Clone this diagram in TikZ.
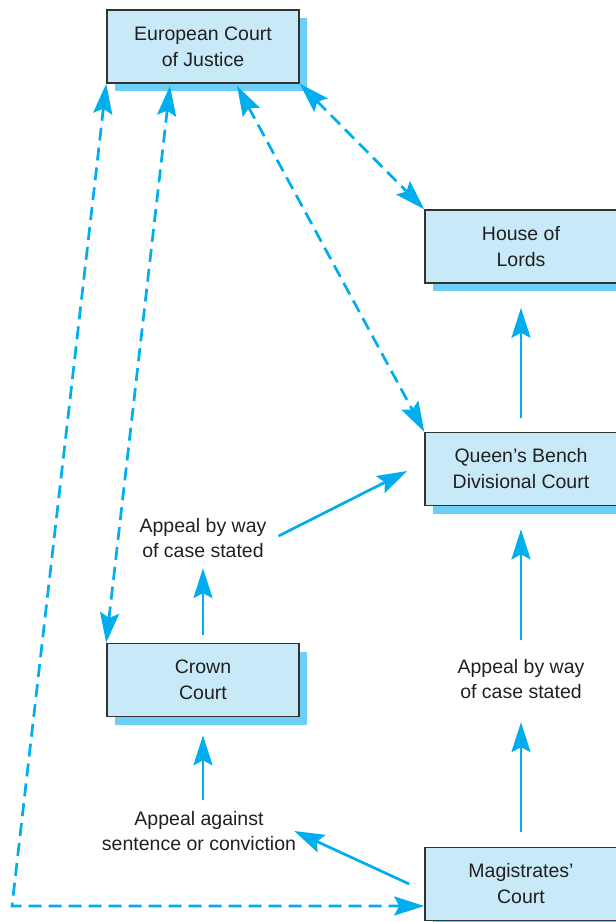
\documentclass[tikz,border=0pt]{standalone}
\usepackage{fontspec}
\setmainfont{Liberation Sans}
\usetikzlibrary{arrows.meta,shadows,calc}
\definecolor{boxfill}{HTML}{C7E9F8}
\definecolor{shadowc}{HTML}{6DCFF6}
\definecolor{arrc}{HTML}{00AEEF}
\definecolor{bordc}{HTML}{333333}
\definecolor{txtc}{HTML}{231F20}
\begin{document}
\begin{tikzpicture}[x=1pt,y=-1pt,
 court/.style={draw=bordc, line width=1.6pt, fill=boxfill, minimum width=192pt, minimum height=73pt, inner sep=0pt, align=center, text=txtc, font=\fontsize{19.5}{26}\selectfont, drop shadow={shadow xshift=8pt, shadow yshift=-8pt, fill=shadowc, opacity=1, draw=none}},
 lbl/.style={align=center, inner sep=0pt, text=txtc, font=\fontsize{19.5}{25.5}\selectfont},
 arr/.style={draw=arrc, line width=2.7pt, -{Stealth[length=30pt,width=19pt,inset=5pt]}},
 darr/.style={draw=arrc, line width=2.7pt, dash pattern=on 13pt off 7pt, {Stealth[length=30pt,width=19pt,inset=5pt]}-{Stealth[length=30pt,width=19pt,inset=5pt]}}]
\useasboundingbox (0,0) rectangle (616,922);
\clip (0,0) rectangle (616,922);
\node[court] (ecj) at (203,46.5) {European Court\\of Justice};
\node[court] (hol) at (521,246.5) {House of\\Lords};
\node[court] (qb) at (521,469) {Queen’s Bench\\Divisional Court};
\node[court] (crown) at (203,680) {Crown\\Court};
\node[court] (mag) at (521,884) {Magistrates’\\Court};
\node[lbl] (l1) at (203,538) {Appeal by way\\of case stated};
\node[lbl] (l2) at (521,679) {Appeal by way\\of case stated};
\node[lbl] (l3) at (199,831) {Appeal against\\sentence or conviction};
\coordinate (cnr) at (12,906);
\draw[arr] ($(qb.north)+(0,-14)$) -- ($(hol.south)+(0,24)$);
\draw[arr] ($(l2.north)+(0,-19)$) -- ($(qb.south)+(0,23)$);
\draw[arr] ($(mag.north)+(0,-15)$) -- ($(l2.south)+(0,23)$);
\draw[arr] ($(crown.north)+(0,-8)$) -- ($(l1.south)+(0,10)$);
\draw[arr] ($(l1.east)+(12,-2)$) -- ($(qb.west)+(-17,2)$);
\draw[arr] ($(crown.south |- l3.north)+(0,-11)$) -- ($(crown.south)+(0,18)$);
\draw[arr] ($(mag.west)+(-15,0)$) -- ($(l3.east)+(-2,0)$);
\draw[darr] (ecj.south west) -- (cnr) -- (mag.west |- cnr);
\draw[darr] ($(ecj.south)+(-33,2)$) -- (crown.north west);
\draw[darr] ($(ecj.south)+(34,2)$) -- (qb.north west);
\draw[darr] (ecj.south east) -- (hol.north west);
\end{tikzpicture}
\end{document}
